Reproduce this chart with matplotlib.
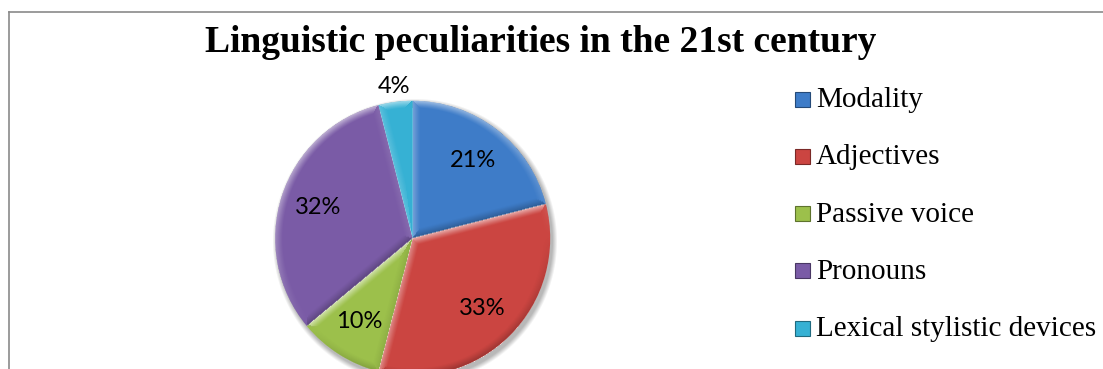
import numpy as np
import matplotlib
matplotlib.use('Agg')
import matplotlib.pyplot as plt
from matplotlib.patches import Rectangle
from matplotlib.lines import Line2D

# chart data
labels = ['Modality', 'Adjectives', 'Passive voice', 'Pronouns',
          'Lexical stylistic devices']
shares = [21, 33, 10, 32, 4]
colors = ['#3e7cc8', '#cb4541', '#9cc04b', '#7a5ba6', '#36b1d4']
title = 'Linguistic peculiarities in the 21st century'

W, H = 1103, 369
fig = plt.figure(figsize=(W / 100, H / 100), dpi=100)
ax = fig.add_axes([0, 0, 1, 1])

cx, cy, R = 412.7, H - 238.3, 137.5

# soft drop shadow under the pie, offset down-right
x0, x1 = cx - R - 12, cx + R + 12
y0, y1 = cy - R - 12, cy + R + 12
xs = np.arange(x0, x1, 1.0) + 0.5
ys = np.arange(y0, y1, 1.0) + 0.5
X, Y = np.meshgrid(xs, ys)
ds = np.hypot(X - cx - 2.5, Y - cy + 3.5) - R
shadow = np.zeros(X.shape + (4,))
shadow[..., 3] = 0.28 * np.clip(1 - ds / 5.0, 0, 1) * (ds > -4)
ax.imshow(shadow, extent=(x0, x1, y0, y1), origin='lower',
          interpolation='bilinear', zorder=1)

wedges, texts, autotexts = ax.pie(
    shares, colors=colors, startangle=90, counterclock=False,
    center=(cx, cy), radius=R, autopct='%1.0f%%', pctdistance=0.72,
    wedgeprops=dict(linewidth=0, zorder=2),
    textprops=dict(family='Lato', fontsize=17, color='black'))

for t in autotexts:
    t.set_zorder(5)

# small slice label sits just outside the rim
w = wedges[4]
mid = np.deg2rad((w.theta1 + w.theta2) / 2)
autotexts[4].set_position((cx + 1.11 * R * np.cos(mid),
                           cy + 1.11 * R * np.sin(mid)))

# bevel shading: light edges facing up-left, dark edges facing down-right
light = np.array([-0.35, 0.94])
light /= np.hypot(*light)
dx, dy = X - cx, Y - cy
r = np.hypot(dx, dy)
phi = np.degrees(np.arctan2(dy, dx))
overlay = np.zeros(X.shape + (4,))
band = 8.0
for w in wedges:
    t1, t2 = w.theta1, w.theta2
    span = t2 - t1
    rel = (phi - t1) % 360
    inside = (rel <= span) & (r <= R)
    d_arc = R - r
    d1 = np.where(rel < 90, r * np.sin(np.deg2rad(rel)), r)
    d2 = np.where(span - rel < 90, r * np.sin(np.deg2rad(span - rel)), r)
    a1, a2 = np.deg2rad(t1), np.deg2rad(t2)
    n_arc = (np.cos(np.deg2rad(phi)), np.sin(np.deg2rad(phi)))
    s_arc = n_arc[0] * light[0] + n_arc[1] * light[1]
    s1 = np.sin(a1) * light[0] - np.cos(a1) * light[1]
    s2 = -np.sin(a2) * light[0] + np.cos(a2) * light[1]
    d = np.minimum(np.minimum(d_arc, d1), d2)
    shade = np.where(d == d_arc, s_arc, np.where(d == d1, s1, s2))
    # a faint rim highlight on every edge plus directional light
    k = np.clip(1 - d / band, 0, 1) ** 1.2
    shade = 0.75 * shade + 0.25
    a = np.where(shade > 0, 0.6 * shade * k, 0.5 * -shade * k)
    rgb = np.where(shade > 0, 1.0, 0.0)
    overlay[inside, 0] = rgb[inside]
    overlay[inside, 1] = rgb[inside]
    overlay[inside, 2] = rgb[inside]
    overlay[inside, 3] = a[inside]
img = ax.imshow(overlay, extent=(x0, x1, y0, y1), origin='lower',
                interpolation='bilinear', zorder=3)
circle = plt.Circle((cx, cy), R, transform=ax.transData)
img.set_clip_path(circle)

ax.set_xlim(0, W)
ax.set_ylim(0, H)
ax.set_aspect('auto')
ax.axis('off')

# title
fig.text(541 / W, (H - 52) / H, title, ha='center', va='baseline',
         family='Liberation Serif', fontweight='bold', fontsize=27)

# legend
for i, (lab, c) in enumerate(zip(labels, colors)):
    yc = H - (99 + 57.3 * i)
    ax.add_patch(Rectangle((795, yc - 7.5), 15, 15, facecolor=c,
                           edgecolor=np.array(matplotlib.colors.to_rgb(c)) * 0.6,
                           linewidth=0.8, zorder=4))
    ax.text(816, H - (107 + 57.3 * i), lab, ha='left', va='baseline',
            family='Liberation Serif', fontsize=21, zorder=4)

# chart area border
fig.add_artist(Line2D([9 / W, 9 / W], [0, (H - 12) / H], color='#8a8a8a',
                      linewidth=1.2, transform=fig.transFigure))
fig.add_artist(Line2D([9 / W, 1], [(H - 12) / H, (H - 12) / H],
                      color='#8a8a8a', linewidth=1.2,
                      transform=fig.transFigure))

fig.savefig('out.png', dpi=100)
